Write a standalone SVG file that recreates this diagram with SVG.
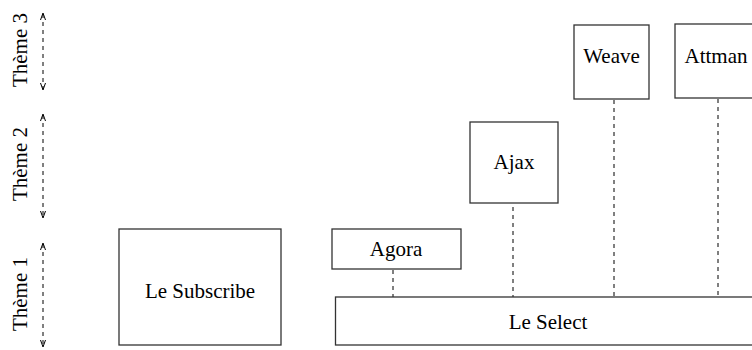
<svg xmlns="http://www.w3.org/2000/svg" width="752" height="350" viewBox="0 0 752 350">
<style>
.box{fill:#fff;stroke:#333;stroke-width:1.3}
.t{font-family:"Liberation Serif","Times New Roman",serif;font-size:21px;fill:#000;text-anchor:middle}
.d{stroke:#000;stroke-width:1;stroke-dasharray:4,4;fill:none}
.ah{stroke:#000;stroke-width:1;fill:none}
</style>
<rect width="752" height="350" fill="#fff"/>
<g id="axis">
<text class="t" transform="translate(27,50) rotate(-90)">Thème 3</text>
<text class="t" transform="translate(27,164) rotate(-90)">Thème 2</text>
<text class="t" transform="translate(27,294) rotate(-90)">Thème 1</text>
<line class="d" x1="43" y1="14" x2="43" y2="89"/>
<path class="ah" d="M40.5,20 L43,13 L45.5,20 M40.5,83 L43,90 L45.5,83"/>
<line class="d" x1="43" y1="115" x2="43" y2="217"/>
<path class="ah" d="M40.5,121 L43,114 L45.5,121 M40.5,211 L43,218 L45.5,211"/>
<line class="d" x1="43" y1="244" x2="43" y2="345"/>
<path class="ah" d="M40.5,250 L43,243 L45.5,250 M40.5,340 L43,347 L45.5,340"/>
</g>
<g id="connectors">
<line class="d" x1="393" y1="270" x2="393" y2="297"/>
<line class="d" x1="513" y1="207" x2="513" y2="297"/>
<line class="d" x1="614" y1="100" x2="614" y2="297"/>
<line class="d" x1="718" y1="99" x2="718" y2="297"/>
</g>
<g id="subscribe">
<rect class="box" x="119" y="229" width="162" height="116"/>
<text class="t" x="200" y="298">Le Subscribe</text>
</g>
<g id="agora">
<rect class="box" x="332" y="229" width="129" height="40"/>
<text class="t" x="396" y="256">Agora</text>
</g>
<g id="select">
<rect class="box" x="335.5" y="297" width="430" height="48"/>
<text class="t" x="548" y="329">Le Select</text>
</g>
<g id="ajax">
<rect class="box" x="470" y="122" width="88" height="81"/>
<text class="t" x="514" y="169">Ajax</text>
</g>
<g id="weave">
<rect class="box" x="574" y="25" width="75" height="74"/>
<text class="t" x="611.5" y="63">Weave</text>
</g>
<g id="attman">
<rect class="box" x="675" y="24" width="90" height="74"/>
<text class="t" x="716" y="63">Attman</text>
</g>
</svg>
